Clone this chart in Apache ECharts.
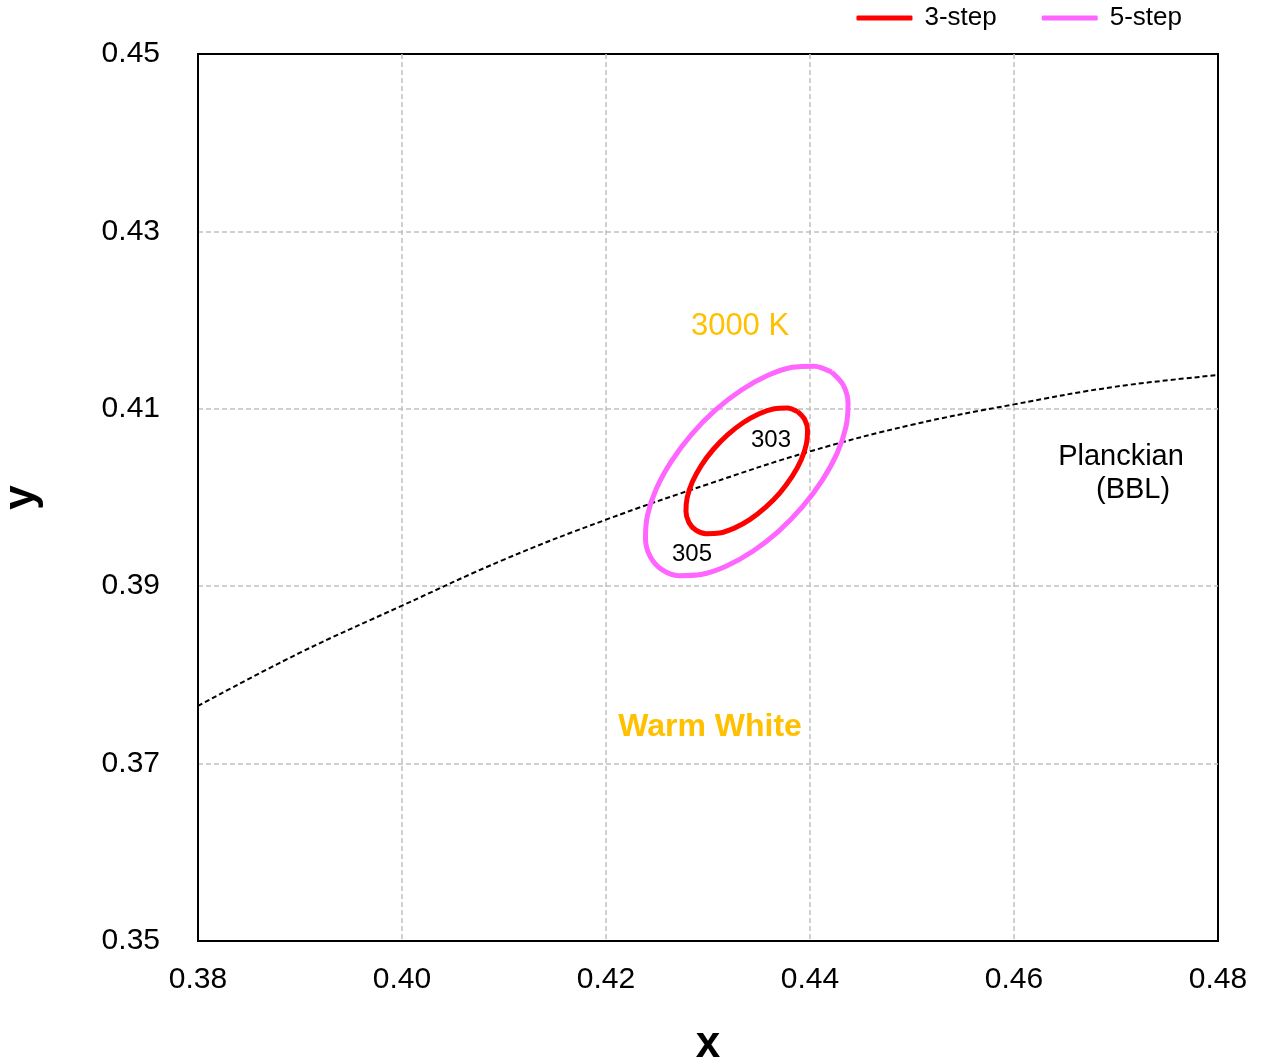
<!DOCTYPE html>
<html>
<head>
<meta charset="utf-8">
<script src="https://cdn.jsdelivr.net/npm/echarts@6/dist/echarts.min.js"></script>
<style>
html,body{margin:0;padding:0;background:#fff;}
#chart{width:1263px;height:1064px;}
</style>
</head>
<body>
<div id="chart"></div>
<script>
// Planckian locus (BBL)
const planckX = [0.38, 0.39, 0.40, 0.41, 0.42, 0.43, 0.44, 0.45, 0.46, 0.47, 0.48];
const planckY = [0.3765, 0.3825, 0.3878, 0.3930, 0.3975, 0.4015, 0.4052, 0.4082, 0.4105, 0.4125, 0.4138];

// 3-step ellipse outline points
const step3X = [0.43879,0.43778,0.43649,0.43502,0.43347,0.43194,0.43053,0.42935,0.42847,0.42796,0.42784,0.42813,
                0.42881,0.42982,0.43111,0.43258,0.43413,0.43566,0.43707,0.43825,0.43913,0.43964,0.43976,0.43947,0.43879];
const step3Y = [0.40968,0.41009,0.41001,0.40945,0.40846,0.40709,0.40544,0.40363,0.40177,0.40000,0.39844,0.39718,
                0.39632,0.39592,0.39599,0.39655,0.39754,0.39891,0.40056,0.40237,0.40423,0.40600,0.40757,0.40882,0.40968];

// 5-step ellipse outline points
const step5X = [0.44212,0.44043,0.43828,0.43583,0.43324,0.43069,0.42835,0.42639,0.42492,0.42407,0.42387,0.42435,
                0.42548,0.42717,0.42932,0.43177,0.43436,0.43691,0.43925,0.44121,0.44268,0.44353,0.44373,0.44325,0.44212];
const step5Y = [0.41414,0.41481,0.41468,0.41375,0.41209,0.40981,0.40707,0.40405,0.40096,0.39801,0.39539,0.39330,
                0.39187,0.39119,0.39132,0.39225,0.39391,0.39619,0.39893,0.40195,0.40504,0.40799,0.41061,0.41270,0.41414];

// tick values
const xTicks = [0.38, 0.40, 0.42, 0.44, 0.46, 0.48];
const yTicks = [0.35, 0.37, 0.39, 0.41, 0.43, 0.45];

// annotations (text and data coordinates)
const annoText = ['3000 K', '303', '305', 'Planckian', '(BBL)', 'Warm White'];
const annoX = [0.43314, 0.43618, 0.42843, 0.47049, 0.47167, 0.43020];
const annoY = [0.41933, 0.40648, 0.39363, 0.40457, 0.40085, 0.37413];

const zip = (a, b) => a.map((v, i) => [v, b[i]]);

const annoStyles = [
  {color: '#FFC000', fontSize: 31, fontWeight: 'normal'},
  {color: '#000000', fontSize: 24, fontWeight: 'normal'},
  {color: '#000000', fontSize: 24, fontWeight: 'normal'},
  {color: '#000000', fontSize: 29, fontWeight: 'normal'},
  {color: '#000000', fontSize: 29, fontWeight: 'normal'},
  {color: '#FFC000', fontSize: 32, fontWeight: 'bold'}
];

const FONT = 'Liberation Sans, Arial, sans-serif';
const splitStyle = {show: true, showMinLine: false, showMaxLine: false,
  lineStyle: {color: '#c0c0c0', width: 1.5, type: [5, 3]}};

const chart = echarts.init(document.getElementById('chart'));
chart.setOption({
  backgroundColor: '#fff',
  animation: false,
  textStyle: {fontFamily: FONT},
  grid: {left: 198, right: 45, top: 54, bottom: 123, show: true, borderColor: '#000', borderWidth: 2,
    containLabel: false, outerBoundsMode: 'none'},
  legend: {
    data: ['3-step', '5-step'],
    right: 76, top: 0,
    itemWidth: 56, itemHeight: 5,
    itemGap: 45,
    icon: 'roundRect',
    textStyle: {fontSize: 26, color: '#000', fontFamily: FONT, padding: [0, 0, 0, 7]}
  },
  xAxis: {
    type: 'value', min: xTicks[0], max: xTicks[xTicks.length - 1], interval: 0.02,
    name: 'x', nameLocation: 'middle', nameGap: 82,
    nameTextStyle: {fontSize: 44, fontWeight: 'bold', color: '#000', fontFamily: FONT},
    axisLine: {show: true, lineStyle: {color: '#000', width: 2}},
    axisTick: {show: false},
    axisLabel: {fontSize: 30, color: '#000', margin: 24, formatter: v => v.toFixed(2)},
    splitLine: splitStyle
  },
  yAxis: {
    type: 'value', min: yTicks[0], max: yTicks[yTicks.length - 1], interval: 0.02,
    name: 'y', nameLocation: 'middle', nameGap: 154, nameRotate: 90,
    nameTextStyle: {fontSize: 44, fontWeight: 'bold', color: '#000', fontFamily: FONT},
    axisLine: {show: true, lineStyle: {color: '#000', width: 2}},
    axisTick: {show: false},
    axisLabel: {fontSize: 30, color: '#000', margin: 38, formatter: v => v.toFixed(2)},
    splitLine: splitStyle
  },
  series: [
    {
      name: 'Planckian', type: 'line', data: zip(planckX, planckY), smooth: 0.4,
      showSymbol: false, silent: true,
      lineStyle: {color: '#000', width: 2, type: [5, 3]}, z: 3
    },
    {
      name: '5-step', type: 'line', data: zip(step5X, step5Y), smooth: 0.3,
      showSymbol: false, color: '#FF66FF',
      lineStyle: {color: '#FF66FF', width: 5}, z: 4
    },
    {
      name: '3-step', type: 'line', data: zip(step3X, step3Y), smooth: 0.3,
      showSymbol: false, color: '#FF0000',
      lineStyle: {color: '#FF0000', width: 5}, z: 5
    },
    {
      name: 'labels', type: 'scatter', symbolSize: 0, silent: true, z: 6,
      itemStyle: {opacity: 1},
      data: annoText.map((t, i) => ({
        value: [annoX[i], annoY[i]], name: t,
        itemStyle: {opacity: 1},
        label: {show: true, position: 'inside', formatter: t, opacity: 1,
          color: annoStyles[i].color, fontSize: annoStyles[i].fontSize,
          fontWeight: annoStyles[i].fontWeight, fontFamily: FONT,
          textBorderWidth: 0}
      }))
    }
  ]
});
</script>
</body>
</html>
